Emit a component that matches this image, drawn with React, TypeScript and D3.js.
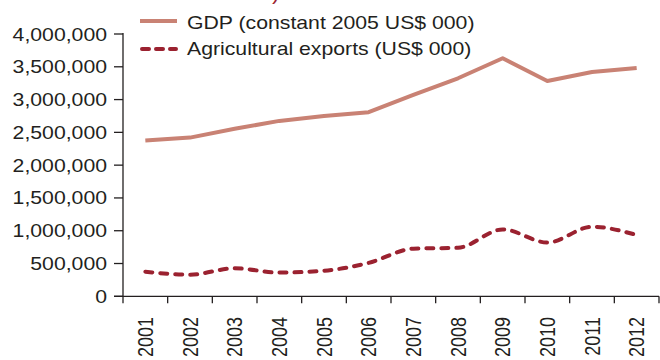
import React from "react";
import * as d3 from "d3";

const years = ["2001","2002","2003","2004","2005","2006","2007","2008","2009","2010","2011","2012"];
const gdp = [2375000, 2420000, 2555000, 2675000, 2748000, 2808000, 3070000, 3325000, 3630000, 3282000, 3420000, 3482000];
const agExports = [375000, 330000, 427000, 362000, 390000, 510000, 726000, 740000, 1020000, 820000, 1060000, 935000];
const yTicks = [0, 500000, 1000000, 1500000, 2000000, 2500000, 3000000, 3500000, 4000000];
const legendLabels = ["GDP (constant 2005 US$ 000)", "Agricultural exports (US$ 000)"];

const W = 660, H = 360;
const left = 123, right = 659, top = 34, bottom = 296.3;
const SX = 1.18;
const FONT = "'Liberation Sans', Arial, Helvetica, sans-serif";
const TEXT = "#231f20";
const GDP_COLOR = "#c98274";
const AG_COLOR = "#9b2230";

export default function App() {
  const x = d3.scaleBand<string>().domain(years).range([left, right]).paddingInner(0).paddingOuter(0);
  const y = d3.scaleLinear().domain([0, 4000000]).range([bottom, top]);
  const cx = (yr: string) => (x(yr) as number) + x.bandwidth() / 2;
  const fmt = d3.format(",");

  const gdpLine = d3.line<number>().x((_, i) => cx(years[i])).y((d) => y(d)).curve(d3.curveLinear);
  const agLine = d3.line<number>().x((_, i) => cx(years[i])).y((d) => y(d)).curve(d3.curveMonotoneX);

  const boundaries = years.map((yr) => x(yr) as number).concat([right]);

  return (
    <svg width={W} height={H} style={{ position: "absolute", left: 0, top: 0, background: "#fff" }}>
      {/* cut-off title fragment */}
      <text transform={`translate(272,0) scale(${SX},1)`} fontFamily={FONT} fontSize={18} fill={AG_COLOR}>)</text>

      {/* axes */}
      <line x1={left} x2={left} y1={top - 1} y2={bottom} stroke={TEXT} strokeWidth={1.3} />
      <line x1={left - 9} x2={right} y1={bottom} y2={bottom} stroke={TEXT} strokeWidth={1.3} />
      {yTicks.map((t) => (
        <g key={t}>
          <line x1={left - 9} x2={left} y1={y(t)} y2={y(t)} stroke={TEXT} strokeWidth={1.3} />
          <text transform={`translate(${left - 16},${y(t) + 6.5}) scale(${SX},1)`} textAnchor="end" fontFamily={FONT} fontSize={18} fill={TEXT}>{fmt(t)}</text>
        </g>
      ))}
      {boundaries.map((b, i) => (
        <line key={i} x1={b} x2={b} y1={bottom} y2={bottom + 7} stroke={TEXT} strokeWidth={1.3} />
      ))}
      {years.map((yr) => (
        <text key={yr} transform={`translate(${cx(yr) + 7.6},317) scale(${SX},1) rotate(-90)`} textAnchor="end" fontFamily={FONT} fontSize={18} fill={TEXT}>{yr}</text>
      ))}

      {/* series */}
      <path d={gdpLine(gdp) || ""} fill="none" stroke={GDP_COLOR} strokeWidth={4} strokeLinejoin="round" />
      <path d={agLine(agExports) || ""} fill="none" stroke={AG_COLOR} strokeWidth={4} strokeDasharray="7,8" strokeLinecap="round" />

      {/* legend */}
      <line x1={140} x2={177} y1={21} y2={21} stroke={GDP_COLOR} strokeWidth={4} />
      <text transform={`translate(187,28.5) scale(${SX},1)`} fontFamily={FONT} fontSize={18} fill={TEXT}>{legendLabels[0]}</text>
      <line x1={142} x2={176} y1={49} y2={49} stroke={AG_COLOR} strokeWidth={4} strokeDasharray="7,7" strokeLinecap="round" />
      <text transform={`translate(187,55) scale(${SX},1)`} fontFamily={FONT} fontSize={18} fill={TEXT}>{legendLabels[1]}</text>
    </svg>
  );
}
